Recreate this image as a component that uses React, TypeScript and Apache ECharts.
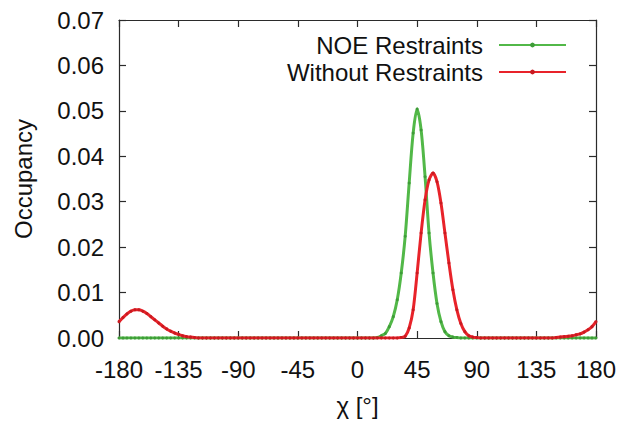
import React, { useEffect, useRef } from "react";
import * as echarts from "echarts";

// Sampling grid for the dihedral angle χ (degrees), 3° steps
const angles = [
  -180, -177, -174, -171, -168, -165, -162, -159, -156, -153, -150, -147, -144, -141, -138, -135,
  -132, -129, -126, -123, -120, -117, -114, -111, -108, -105, -102, -99, -96, -93, -90, -87,
  -84, -81, -78, -75, -72, -69, -66, -63, -60, -57, -54, -51, -48, -45, -42, -39,
  -36, -33, -30, -27, -24, -21, -18, -15, -12, -9, -6, -3, 0, 3, 6, 9,
  12, 15, 18, 21, 24, 27, 30, 33, 36, 39, 42, 45, 48, 51, 54, 57,
  60, 63, 66, 69, 72, 75, 78, 81, 84, 87, 90, 93, 96, 99, 102, 105,
  108, 111, 114, 117, 120, 123, 126, 129, 132, 135, 138, 141, 144, 147, 150, 153,
  156, 159, 162, 165, 168, 171, 174, 177, 180,
];

// Occupancy with NOE restraints
const noeValues = [
  0, 0, 0, 0, 0, 0, 0, 0, 0, 0, 0, 0, 0, 0, 0, 0,
  0, 0, 0, 0, 0, 0, 0, 0, 0, 0, 0, 0, 0, 0, 0, 0,
  0, 0, 0, 0, 0, 0, 0, 0, 0, 0, 0, 0, 0, 0, 0, 0,
  0, 0, 0, 0, 0, 0, 0, 0, 0, 0, 0, 0, 0, 0, 0, 0,
  0, 0.0001, 0.0005, 0.001, 0.0025, 0.0047, 0.0084, 0.0143, 0.0224, 0.0341, 0.0451, 0.0504, 0.0458, 0.0355, 0.0231, 0.0143,
  0.0076, 0.0036, 0.0014, 0.0005, 0.0002, 0.0001, 0, 0, 0, 0, 0, 0, 0, 0, 0, 0,
  0, 0, 0, 0, 0, 0, 0, 0, 0, 0, 0, 0, 0, 0, 0, 0,
  0, 0, 0, 0, 0, 0, 0, 0, 0,
];

// Occupancy without restraints
const freeValues = [
  0.0036, 0.0045, 0.0053, 0.0059, 0.0062, 0.0062, 0.0059, 0.0054, 0.0047, 0.004, 0.0033, 0.0026, 0.002, 0.0015, 0.0011, 0.0008,
  0.0005, 0.0003, 0.0002, 0.0001, 0, 0, 0, 0, 0, 0, 0, 0, 0, 0, 0, 0,
  0, 0, 0, 0, 0, 0, 0, 0, 0, 0, 0, 0, 0, 0, 0, 0,
  0, 0, 0, 0, 0, 0, 0, 0, 0, 0, 0, 0, 0, 0, 0, 0,
  0, 0, 0, 0, 0, 0, 0, 0.0001, 0.0004, 0.0022, 0.0062, 0.0143, 0.0231, 0.0304, 0.0348, 0.0363,
  0.0344, 0.0297, 0.0231, 0.0165, 0.0106, 0.0062, 0.0032, 0.0014, 0.0005, 0.0002, 0.0001, 0, 0, 0, 0, 0,
  0, 0, 0, 0, 0, 0, 0, 0, 0, 0, 0, 0, 0, 0, 0.0001, 0.0002,
  0.0003, 0.0004, 0.0005, 0.0007, 0.0009, 0.0013, 0.0018, 0.0025, 0.0036,
];

const seriesNames = ["NOE Restraints", "Without Restraints"];

const FONT = "Liberation Sans, Arial, sans-serif";
const AXIS_COLOR = "#2b2b2b";

export default function App() {
  const ref = useRef<HTMLDivElement>(null);

  useEffect(() => {
    if (!ref.current) return;
    const chart = echarts.init(ref.current, null, { renderer: "svg" });

    const pairs = (vals: number[]) => angles.map((a, i) => [a, vals[i]]);

    const axisLine = { show: true, onZero: false, lineStyle: { color: AXIS_COLOR, width: 1.2 } };
    const axisTick = { show: true, inside: true, length: 7, lineStyle: { color: AXIS_COLOR, width: 1.2 } };

    const baseX = {
      type: "value" as const,
      min: -180,
      max: 180,
      interval: 45,
      splitLine: { show: false },
      axisLine,
      axisTick,
    };
    const baseY = {
      type: "value" as const,
      min: 0,
      max: 0.07,
      interval: 0.01,
      splitLine: { show: false },
      axisLine,
      axisTick,
    };

    chart.setOption({
      animation: false,
      backgroundColor: "#ffffff",
      textStyle: { fontFamily: FONT },
      grid: { left: 119, right: 22, top: 20, bottom: 85, outerBoundsMode: "none" },
      legend: {
        orient: "vertical",
        right: 51,
        top: 33,
        padding: 0,
        align: "right",
        itemWidth: 67,
        itemHeight: 6,
        itemGap: 3,
        textStyle: { fontSize: 24, color: "#111", fontFamily: FONT, padding: [0, 11, 0, 0] },
        data: seriesNames,
      },
      xAxis: [
        {
          ...baseX,
          position: "bottom",
          name: "χ [°]",
          nameLocation: "middle",
          nameGap: 55,
          nameTextStyle: { fontSize: 24, color: "#111", fontFamily: FONT },
          axisLabel: { fontSize: 24, color: "#111", margin: 19, fontFamily: FONT },
        },
        { ...baseX, position: "top", axisLabel: { show: false } },
      ],
      yAxis: [
        {
          ...baseY,
          position: "left",
          name: "Occupancy",
          nameLocation: "middle",
          nameGap: 84,
          nameTextStyle: { fontSize: 24, color: "#111", fontFamily: FONT },
          axisLabel: {
            fontSize: 24,
            color: "#111",
            margin: 15,
            fontFamily: FONT,
            formatter: (v: number) => v.toFixed(2),
          },
        },
        { ...baseY, position: "right", axisLabel: { show: false } },
      ],
      series: [
        {
          name: seriesNames[0],
          type: "line",
          data: pairs(noeValues),
          smooth: 0.3,
          showSymbol: true,
          symbol: "circle",
          symbolSize: 3,
          lineStyle: { color: "#52b848", width: 3 },
          itemStyle: { color: "#3e9c38" },
          z: 2,
        },
        {
          name: seriesNames[1],
          type: "line",
          data: pairs(freeValues),
          smooth: 0.3,
          showSymbol: true,
          symbol: "circle",
          symbolSize: 3,
          lineStyle: { color: "#e8232a", width: 3 },
          itemStyle: { color: "#c81a20" },
          z: 3,
        },
      ],
    });

    return () => chart.dispose();
  }, []);

  return (
    <div
      ref={ref}
      style={{ position: "absolute", left: 0, top: 0, width: 618, height: 423 }}
    />
  );
}
